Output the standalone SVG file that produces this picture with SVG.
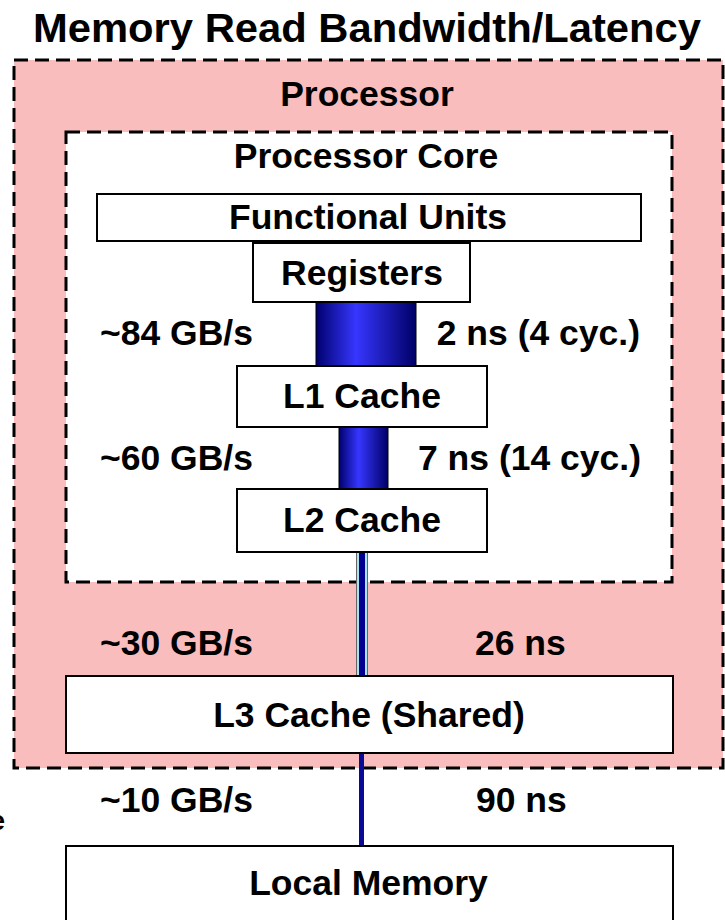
<svg xmlns="http://www.w3.org/2000/svg" width="725" height="920" viewBox="0 0 725 920">
<style>
text{font-family:"Liberation Sans",Arial,sans-serif;font-weight:bold;fill:#000;font-size:35.5px}
.box{fill:#fff;stroke:#000;stroke-width:2}
.dash{stroke:#000;stroke-width:3;stroke-dasharray:14 7}
.mid{text-anchor:middle}
.end{text-anchor:end}
</style>
<defs>
<linearGradient id="pipe" x1="0" y1="0" x2="1" y2="0">
<stop offset="0" stop-color="#00006E"/>
<stop offset="0.4" stop-color="#3636FF"/>
<stop offset="1" stop-color="#000066"/>
</linearGradient>
</defs>
<rect width="725" height="920" fill="#fff"/>
<text class="mid" x="367" y="42" style="font-size:41.5px" textLength="668" lengthAdjust="spacingAndGlyphs">Memory Read Bandwidth/Latency</text>
<g id="processor">
<rect class="dash" x="14" y="60" width="709" height="708" fill="#F9BDBD"/>
<text class="mid" x="367" y="106">Processor</text>
</g>
<g id="core">
<rect class="dash" x="66" y="132" width="606" height="450" fill="#fff"/>
<text class="mid" x="366" y="168">Processor Core</text>
</g>
<g id="connectors">
<rect x="316" y="302" width="100" height="64" fill="url(#pipe)" stroke="#000" stroke-width="1"/>
<rect x="339" y="427" width="49" height="62" fill="url(#pipe)" stroke="#000" stroke-width="1"/>
<rect x="356.5" y="552" width="11" height="124" fill="#A8E4F2" stroke="#666" stroke-width="1"/>
<rect x="359" y="552" width="6" height="124" fill="#000090"/>
<line x1="361.5" y1="753" x2="361.5" y2="846" stroke="#0A0A96" stroke-width="5"/>
</g>
<g id="functional-units">
<rect class="box" x="97" y="194" width="544" height="47"/>
<text class="mid" x="368" y="229">Functional Units</text>
</g>
<g id="registers">
<rect class="box" x="253" y="243" width="217" height="59"/>
<text class="mid" x="362" y="285">Registers</text>
</g>
<g id="l1">
<rect class="box" x="237" y="366" width="250" height="61"/>
<text class="mid" x="362" y="408">L1 Cache</text>
</g>
<g id="l2">
<rect class="box" x="237" y="489" width="250" height="63"/>
<text class="mid" x="362" y="532">L2 Cache</text>
</g>
<g id="l3">
<rect class="box" x="66" y="676" width="607" height="77"/>
<text class="mid" x="369" y="727">L3 Cache (Shared)</text>
</g>
<g id="local-memory">
<rect class="box" x="66" y="846" width="607" height="90"/>
<text class="mid" x="368.5" y="895">Local Memory</text>
</g>
<g id="labels">
<text x="100" y="345">~84 GB/s</text>
<text class="end" x="640" y="345">2 ns (4 cyc.)</text>
<text x="100" y="470">~60 GB/s</text>
<text class="end" x="641" y="470">7 ns (14 cyc.)</text>
<text x="100" y="655">~30 GB/s</text>
<text x="475" y="655">26 ns</text>
<text x="100" y="812">~10 GB/s</text>
<text x="476" y="812">90 ns</text>
<text class="end" x="5" y="830" style="font-size:28px">e</text>
</g>
</svg>
